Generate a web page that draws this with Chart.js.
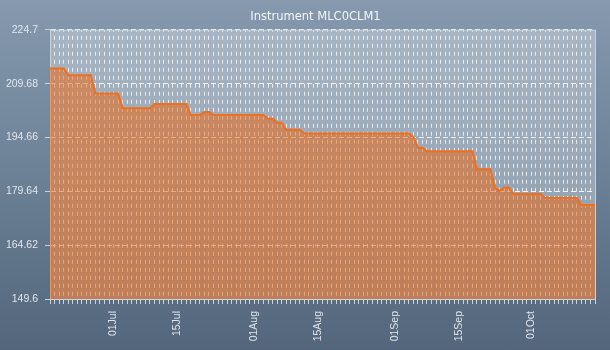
<!DOCTYPE html>
<html>
<head>
<meta charset="utf-8">
<script src="https://cdn.jsdelivr.net/npm/chart.js@4.4.0/dist/chart.umd.min.js"></script>
<style>
    html, body { margin: 0; padding: 0; background: #5b6e83; }
    #chart { display: block; background: linear-gradient(to bottom, #8699ae 0%, #6f8499 45%, #53667b 100%); }
</style>
</head>
<body>
<canvas id="chart" width="610" height="350"></canvas>
<script>
"use strict";

const chartTitle = "Instrument MLC0CLM1";
const firstDay = Date.UTC(2013, 5, 17);
const dayCount = 121;
const monthNames = ["Jan", "Feb", "Mar", "Apr", "May", "Jun", "Jul", "Aug", "Sep", "Oct", "Nov", "Dec"];
const tickLabels = ["01Jul", "15Jul", "01Aug", "15Aug", "01Sep", "15Sep", "01Oct"];
const yTicks = [149.6, 164.62, 179.64, 194.66, 209.68, 224.7];

// daily closing values, 17 Jun .. 15 Oct
const prices = [
    213.9, 213.9, 213.9, 213.9, 212.0, 212.0, 212.0, 212.0, 212.0, 212.0,
    206.9, 206.9, 206.9, 206.9, 206.9, 206.9, 202.8, 202.8, 202.8, 202.8,
    202.8, 202.8, 202.8, 204.0, 204.0, 204.0, 204.0, 204.0, 204.0, 204.0,
    204.0, 200.9, 200.9, 200.9, 201.8, 201.8, 200.9, 200.9, 200.9, 200.9,
    200.9, 200.9, 200.9, 200.9, 200.9, 200.9, 200.9, 200.9, 199.9, 199.9,
    198.8, 198.8, 196.8, 196.8, 196.8, 196.8, 195.8, 195.8, 195.8, 195.8,
    195.8, 195.8, 195.8, 195.8, 195.8, 195.8, 195.8, 195.8, 195.8, 195.8,
    195.8, 195.8, 195.8, 195.8, 195.8, 195.8, 195.8, 195.8, 195.8, 195.8,
    194.8, 191.8, 191.8, 190.8, 190.8, 190.8, 190.8, 190.8, 190.8, 190.8,
    190.8, 190.8, 190.8, 190.8, 185.8, 185.8, 185.8, 185.8, 180.5, 179.8,
    180.7, 180.7, 178.9, 178.9, 178.9, 178.9, 178.9, 178.9, 178.9, 177.8,
    177.8, 177.8, 177.8, 177.8, 177.8, 177.8, 177.8, 175.8, 175.8, 175.8,
    175.8
];

const dayLabels = [];
for (let i = 0; i < dayCount; i++) {
    const d = new Date(firstDay + i * 86400000);
    dayLabels.push(String(d.getUTCDate()).padStart(2, "0") + monthNames[d.getUTCMonth()]);
}

const tickFont = { family: "Liberation Sans", size: 10.5 };
const tickColor = "#e1e6eb";
const frameColor = "#c9d1d9";

const plotFrame = {
    id: "plotFrame",
    afterLayout(chart) {
        // let the y labels use the space left of the axis box (title is centred with left padding)
        chart.scales.y.left = 0;
    },
    beforeDraw(chart) {
        const { ctx, chartArea: a } = chart;
        ctx.save();
        ctx.fillStyle = "rgba(255,255,255,0.3)";
        ctx.fillRect(a.left, a.top, a.right - a.left, a.bottom - a.top);
        ctx.restore();
    },
    afterDraw(chart) {
        const { ctx, chartArea: a } = chart;
        ctx.save();
        ctx.strokeStyle = frameColor;
        ctx.lineWidth = 1;
        ctx.beginPath();
        ctx.moveTo(a.left, a.top + 0.5);
        ctx.lineTo(a.right + 0.5, a.top + 0.5);
        ctx.lineTo(a.right + 0.5, a.bottom);
        ctx.stroke();
        ctx.restore();
    }
};

new Chart(document.getElementById("chart"), {
    type: "line",
    data: {
        labels: dayLabels,
        datasets: [{
            data: prices,
            borderColor: "#f06e1c",
            backgroundColor: "rgba(242,100,10,0.5)",
            borderWidth: 2,
            pointRadius: 0,
            tension: 0,
            fill: "start"
        }]
    },
    options: {
        responsive: false,
        animation: false,
        layout: { padding: { left: 36, right: 15, top: 0, bottom: 0 } },
        plugins: {
            legend: { display: false },
            tooltip: { enabled: false },
            title: {
                display: true,
                text: chartTitle,
                color: "#f4f6f8",
                font: { family: "DejaVu Sans", size: 11.5, weight: "normal" },
                padding: { top: 10, bottom: 6 }
            }
        },
        scales: {
            x: {
                offset: false,
                grid: {
                    color: "rgba(255,255,255,0.75)",
                    lineWidth: 1,
                    tickLength: 5,
                    tickColor: frameColor,
                    tickBorderDash: []
                },
                border: { color: frameColor, dash: [4, 4], dashOffset: 2 },
                ticks: {
                    autoSkip: false,
                    minRotation: 90,
                    maxRotation: 90,
                    padding: 7,
                    color: tickColor,
                    font: tickFont,
                    callback(value) {
                        const label = this.getLabelForValue(value);
                        return tickLabels.includes(label) ? label : "";
                    }
                },
                afterFit(scale) {
                    scale.height = 51;
                    scale.paddingLeft = 0;
                    scale.paddingRight = 0;
                }
            },
            y: {
                min: 149.6,
                max: 224.7,
                afterBuildTicks(scale) {
                    scale.ticks = yTicks.map((v) => ({ value: v }));
                },
                grid: {
                    color: "rgba(255,255,255,0.85)",
                    lineWidth: 1,
                    tickLength: 5,
                    tickColor: frameColor,
                    tickBorderDash: []
                },
                border: { color: frameColor, dash: [5, 3] },
                ticks: {
                    padding: 7,
                    color: tickColor,
                    font: tickFont,
                    callback: (value) => String(value)
                },
                afterFit(scale) {
                    scale.width = 14;
                    scale.paddingTop = 0;
                    scale.paddingBottom = 0;
                }
            }
        }
    },
    plugins: [plotFrame]
});
</script>
</body>
</html>
